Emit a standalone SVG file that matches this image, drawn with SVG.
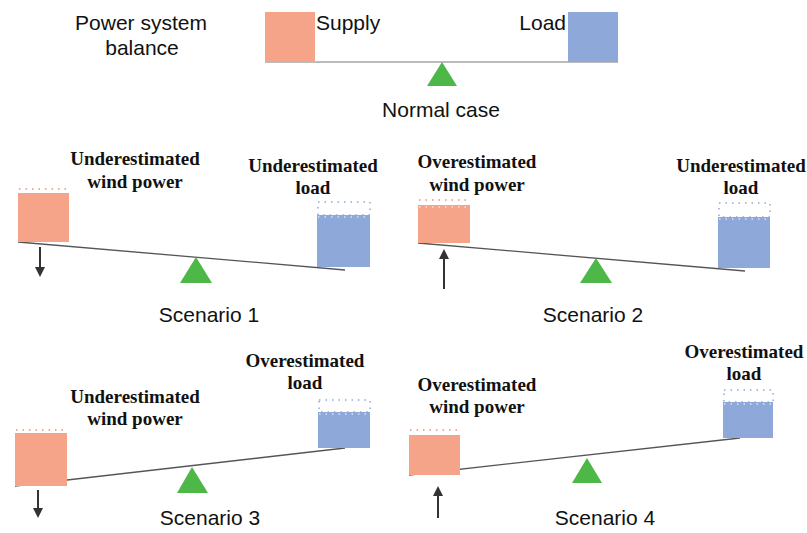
<svg xmlns="http://www.w3.org/2000/svg" width="807" height="533" viewBox="0 0 807 533">
<defs>
<style>
.sans{font-family:"Liberation Sans",Arial,sans-serif;font-size:21px;fill:#111}
.serif{font-family:"Liberation Serif","Times New Roman",serif;font-size:19px;font-weight:bold;fill:#111;text-anchor:middle}
.mid{text-anchor:middle}
.sup{fill:#F5A389}
.load{fill:#8DA8D9}
.tri{fill:#4DB848}
.beam{stroke:#555;stroke-width:1.3;fill:none}
.beam0{stroke:#BBBBBB;stroke-width:2;fill:none}
.dotr{stroke:#E89080;stroke-width:1.5;stroke-dasharray:1.5 5;fill:none}
.dotb{stroke:#8FA9DA;stroke-width:1.5;stroke-dasharray:1.5 5;fill:none}
.wave{stroke:#FFFFFF;stroke-width:1.2;stroke-dasharray:1.5 5;fill:none}
.arr{stroke:#333;stroke-width:2;fill:none;marker-end:url(#ah)}
</style>
<marker id="ah" viewBox="0 0 10 10" refX="8" refY="5" markerWidth="5" markerHeight="5" orient="auto" markerUnits="strokeWidth">
<path d="M0,0 L10,5 L0,10 z" fill="#333"/>
</marker>
</defs>
<rect width="807" height="533" fill="#FFFFFF"/>

<g id="connectors">
<line class="beam0" x1="265" y1="62" x2="618" y2="62"/>
<line class="beam" x1="18" y1="242" x2="345" y2="270"/>
<line class="beam" x1="418" y1="243" x2="745" y2="271"/>
<line class="beam" x1="15" y1="486" x2="345" y2="448"/>
<line class="beam" x1="409" y1="475" x2="740" y2="438"/>
<line class="arr" x1="40" y1="247" x2="40" y2="275"/>
<line class="arr" x1="444" y1="289" x2="444" y2="251"/>
<line class="arr" x1="38" y1="490" x2="38" y2="516"/>
<line class="arr" x1="438" y1="518" x2="438" y2="488"/>
</g>

<g id="normal">
<text class="sans mid" x="141" y="30">Power system</text>
<text class="sans mid" x="142" y="55">balance</text>
<rect class="sup" x="265" y="12" width="50" height="50"/>
<text class="sans" x="316" y="30">Supply</text>
<rect class="load" x="568" y="12" width="50" height="50"/>
<text class="sans" x="566" y="30" text-anchor="end">Load</text>
<polygon class="tri" points="442,62 427,86 457,86"/>
<text class="sans mid" x="441" y="117">Normal case</text>
</g>

<g id="scenario1">
<text class="serif" x="135" y="165">Underestimated</text>
<text class="serif" x="135" y="188">wind power</text>
<text class="serif" x="313" y="172">Underestimated</text>
<text class="serif" x="313" y="194">load</text>
<line class="dotr" x1="19" y1="189" x2="69" y2="189"/>
<rect class="sup" x="18" y="193" width="51" height="49"/>
<rect class="dotb" x="318" y="202" width="52" height="13"/>
<rect class="load" x="317" y="215" width="53" height="52"/>
<line class="wave" x1="318" y1="217" x2="370" y2="217"/>
<polygon class="tri" points="196,257 180,283 212,283"/>
<text class="sans mid" x="209" y="322">Scenario 1</text>
</g>

<g id="scenario2">
<text class="serif" x="477" y="168">Overestimated</text>
<text class="serif" x="477" y="191">wind power</text>
<text class="serif" x="741" y="172">Underestimated</text>
<text class="serif" x="741" y="194">load</text>
<line class="dotr" x1="419" y1="200" x2="470" y2="200"/>
<rect class="sup" x="418" y="205" width="52" height="38"/>
<line class="wave" x1="419" y1="207" x2="470" y2="207"/>
<rect class="dotb" x="719" y="203" width="51" height="14"/>
<rect class="load" x="718" y="217" width="52" height="51"/>
<line class="wave" x1="719" y1="219" x2="770" y2="219"/>
<polygon class="tri" points="596,258 580,283 612,283"/>
<text class="sans mid" x="593" y="322">Scenario 2</text>
</g>

<g id="scenario3">
<text class="serif" x="135" y="403">Underestimated</text>
<text class="serif" x="135" y="425">wind power</text>
<text class="serif" x="305" y="367">Overestimated</text>
<text class="serif" x="305" y="389">load</text>
<line class="dotr" x1="16" y1="430" x2="67" y2="430"/>
<rect class="sup" x="15" y="433" width="52" height="53"/>
<rect class="dotb" x="319" y="400" width="51" height="12"/>
<rect class="load" x="318" y="412" width="52" height="36"/>
<line class="wave" x1="319" y1="414" x2="370" y2="414"/>
<polygon class="tri" points="192,467 177,493 208,493"/>
<text class="sans mid" x="210" y="525">Scenario 3</text>
</g>

<g id="scenario4">
<text class="serif" x="477" y="391">Overestimated</text>
<text class="serif" x="477" y="413">wind power</text>
<text class="serif" x="744" y="358">Overestimated</text>
<text class="serif" x="744" y="380">load</text>
<line class="dotr" x1="410" y1="430" x2="460" y2="430"/>
<rect class="sup" x="409" y="435" width="51" height="40"/>
<rect class="dotb" x="724" y="390" width="49" height="12"/>
<rect class="load" x="723" y="402" width="50" height="36"/>
<line class="wave" x1="724" y1="404" x2="773" y2="404"/>
<polygon class="tri" points="587,458 572,483 602,483"/>
<text class="sans mid" x="605" y="525">Scenario 4</text>
</g>
</svg>
